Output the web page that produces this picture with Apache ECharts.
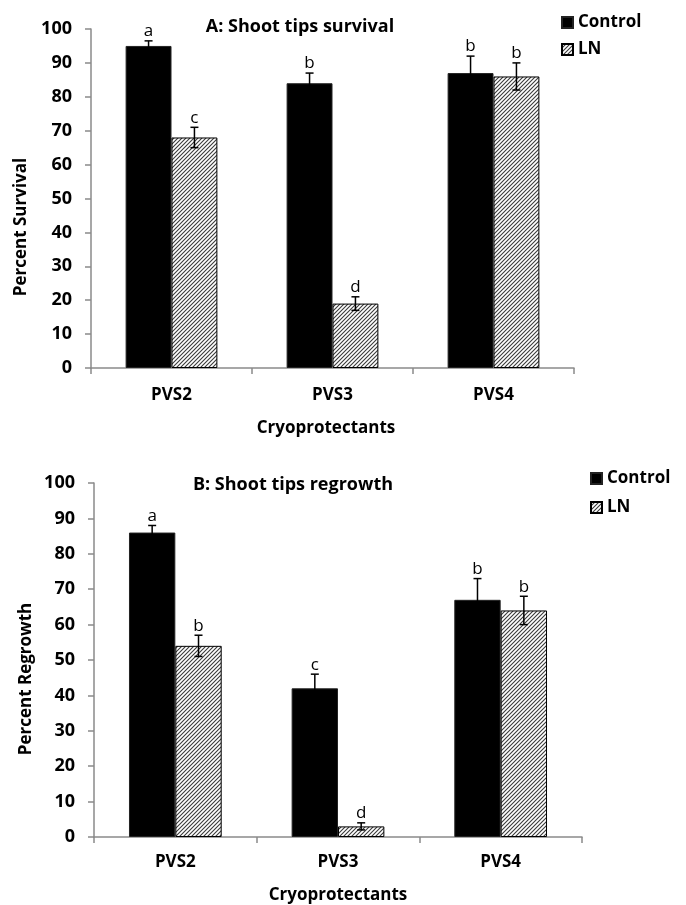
<!DOCTYPE html>
<html>
<head>
<meta charset="utf-8">
<script src="https://cdn.jsdelivr.net/npm/echarts@6/dist/echarts.min.js"></script>
<style>
html,body{margin:0;padding:0;background:#fff;}
#chart{width:686px;height:905px;}
</style>
</head>
<body>
<div id="chart"></div>
<script>
// ---- data ----
const categories = ['PVS2', 'PVS3', 'PVS4'];
const seriesNames = ['Control', 'LN'];
const yTicks = [0, 10, 20, 30, 40, 50, 60, 70, 80, 90, 100];

const survivalControl = [95, 84, 87];
const survivalLN = [68, 19, 86];
const survivalControlErr = [1.5, 3, 5];
const survivalLNErr = [3, 2, 4];
const survivalControlLetters = ['a', 'b', 'b'];
const survivalLNLetters = ['c', 'd', 'b'];

const regrowthControl = [86, 42, 67];
const regrowthLN = [54, 3, 64];
const regrowthControlErr = [2, 4, 6];
const regrowthLNErr = [3, 1, 4];
const regrowthControlLetters = ['a', 'c', 'b'];
const regrowthLNLetters = ['b', 'd', 'b'];

const titles = ['A: Shoot tips survival', 'B: Shoot tips regrowth'];
const yNames = ['Percent Survival', 'Percent Regrowth'];
const xName = 'Cryoprotectants';

// ---- styling ----
const FONT = '"Open Sans"';
const GAP = 0.43;
const axisGray = '#8a8a8a';

function makeHatch() {
  const c = document.createElement('canvas');
  c.width = 4; c.height = 4;
  const ctx = c.getContext('2d');
  ctx.fillStyle = '#ffffff';
  ctx.fillRect(0, 0, 4, 4);
  ctx.strokeStyle = '#3a3a3a';
  ctx.lineWidth = 1.1;
  ctx.beginPath();
  ctx.moveTo(-1, 5); ctx.lineTo(5, -1);
  ctx.moveTo(-1, 1); ctx.lineTo(1, -1);
  ctx.moveTo(3, 5); ctx.lineTo(5, 3);
  ctx.stroke();
  return c;
}
const hatch = { image: makeHatch(), repeat: 'repeat' };

function errData(ctrl, ln, ctrlErr, lnErr) {
  const out = [];
  for (let i = 0; i < categories.length; i++) {
    out.push([i, ctrl[i], ctrlErr[i], -1]);
    out.push([i, ln[i], lnErr[i], 1]);
  }
  return out;
}
function letterList(ctrlL, lnL) {
  const out = [];
  for (let i = 0; i < categories.length; i++) { out.push(ctrlL[i]); out.push(lnL[i]); }
  return out;
}

function makeRender(letters) {
  return function (params, api) {
    const cat = api.value(0), v = api.value(1), e = api.value(2), side = api.value(3);
    const letter = letters[params.dataIndex];
    const catW = api.size([1, 0])[0];
    const bw = catW * (1 - GAP) / 2;
    const c = api.coord([cat, v]);
    const x = c[0] + side * bw / 2;
    const yTop = api.coord([cat, v + e])[1];
    const yBot = api.coord([cat, v - e])[1];
    const cap = 4;
    const ls = { stroke: '#000', lineWidth: 1.5 };
    return {
      type: 'group',
      children: [
        { type: 'line', shape: { x1: x, y1: yTop, x2: x, y2: yBot }, style: ls },
        { type: 'line', shape: { x1: x - cap, y1: yTop, x2: x + cap, y2: yTop }, style: ls },
        { type: 'line', shape: { x1: x - cap, y1: yBot, x2: x + cap, y2: yBot }, style: ls },
        { type: 'text', x: x, y: yTop - 1,
          style: { text: letter, fill: '#000', font: '17px ' + FONT, align: 'center', verticalAlign: 'bottom' } }
      ]
    };
  };
}

function xAxisCfg(idx, margin) {
  return {
    type: 'category', gridIndex: idx, data: categories,
    axisLine: { lineStyle: { color: axisGray, width: 1.5 } },
    axisTick: { show: true, length: 6, lineStyle: { color: axisGray, width: 1.5 } },
    axisLabel: { color: '#000', fontFamily: FONT, fontWeight: 'bold', fontSize: 17, margin: margin },
    splitLine: { show: false }
  };
}
function yAxisCfg(idx) {
  return {
    type: 'value', gridIndex: idx, min: yTicks[0], max: yTicks[yTicks.length - 1], interval: 10,
    axisLine: { show: true, lineStyle: { color: axisGray, width: 1.5 } },
    axisTick: { show: true, length: 6, lineStyle: { color: axisGray, width: 1.5 } },
    axisLabel: { color: '#000', fontFamily: FONT, fontWeight: 'bold', fontSize: 18, margin: 19 },
    splitLine: { show: false }
  };
}

const barBase = { type: 'bar', barGap: '0%', barCategoryGap: (GAP * 100) + '%', animation: false };
const legendText = { fontFamily: FONT, fontWeight: 'bold', fontSize: 17, color: '#000' };

const option = {
  animation: false,
  textStyle: { fontFamily: FONT },
  grid: [
    { left: 91, top: 29, width: 483, height: 339 },
    { left: 94, top: 483, width: 488, height: 354 }
  ],
  title: [
    { text: titles[0], left: 300, top: 18, textAlign: 'center', padding: 0,
      textStyle: { fontFamily: FONT, fontWeight: 'bold', fontSize: 18, color: '#000' } },
    { text: titles[1], left: 293, top: 476, textAlign: 'center', padding: 0,
      textStyle: { fontFamily: FONT, fontWeight: 'bold', fontSize: 18, color: '#000' } }
  ],
  legend: [
    { orient: 'vertical', left: 561, top: 14, itemWidth: 11, itemHeight: 11, itemGap: 10, padding: 0,
      icon: 'rect', data: seriesNames, selectedMode: false, textStyle: legendText },
    { orient: 'vertical', left: 590, top: 470, itemWidth: 11, itemHeight: 11, itemGap: 12, padding: 0,
      icon: 'rect', data: seriesNames, selectedMode: false, textStyle: legendText }
  ],
  xAxis: [xAxisCfg(0, 19), xAxisCfg(1, 17)],
  yAxis: [yAxisCfg(0), yAxisCfg(1)],
  series: [
    Object.assign({}, barBase, { name: seriesNames[0], xAxisIndex: 0, yAxisIndex: 0, data: survivalControl,
      itemStyle: { color: '#000', borderColor: '#222', borderWidth: 1 } }),
    Object.assign({}, barBase, { name: seriesNames[1], xAxisIndex: 0, yAxisIndex: 0, data: survivalLN,
      itemStyle: { color: hatch, borderColor: '#000', borderWidth: 1 } }),
    Object.assign({}, barBase, { name: seriesNames[0], xAxisIndex: 1, yAxisIndex: 1, data: regrowthControl,
      itemStyle: { color: '#000', borderColor: '#222', borderWidth: 1 } }),
    Object.assign({}, barBase, { name: seriesNames[1], xAxisIndex: 1, yAxisIndex: 1, data: regrowthLN,
      itemStyle: { color: hatch, borderColor: '#000', borderWidth: 1 } }),
    { type: 'custom', xAxisIndex: 0, yAxisIndex: 0, z: 5, clip: false,
      renderItem: makeRender(letterList(survivalControlLetters, survivalLNLetters)),
      data: errData(survivalControl, survivalLN, survivalControlErr, survivalLNErr) },
    { type: 'custom', xAxisIndex: 1, yAxisIndex: 1, z: 5, clip: false,
      renderItem: makeRender(letterList(regrowthControlLetters, regrowthLNLetters)),
      data: errData(regrowthControl, regrowthLN, regrowthControlErr, regrowthLNErr) }
  ],
  graphic: [
    { type: 'text', x: 326, y: 428, style: { text: xName, font: 'bold 17px ' + FONT, fill: '#000', align: 'center', verticalAlign: 'middle' } },
    { type: 'text', x: 338, y: 895, style: { text: xName, font: 'bold 17px ' + FONT, fill: '#000', align: 'center', verticalAlign: 'middle' } },
    { type: 'text', x: 21, y: 227, rotation: Math.PI / 2, style: { text: yNames[0], font: 'bold 17px ' + FONT, fill: '#000', align: 'center', verticalAlign: 'middle' } },
    { type: 'text', x: 26, y: 679, rotation: Math.PI / 2, style: { text: yNames[1], font: 'bold 17px ' + FONT, fill: '#000', align: 'center', verticalAlign: 'middle' } }
  ]
};

const chart = echarts.init(document.getElementById('chart'), null, { renderer: 'canvas' });
chart.setOption(option);
</script>
</body>
</html>
